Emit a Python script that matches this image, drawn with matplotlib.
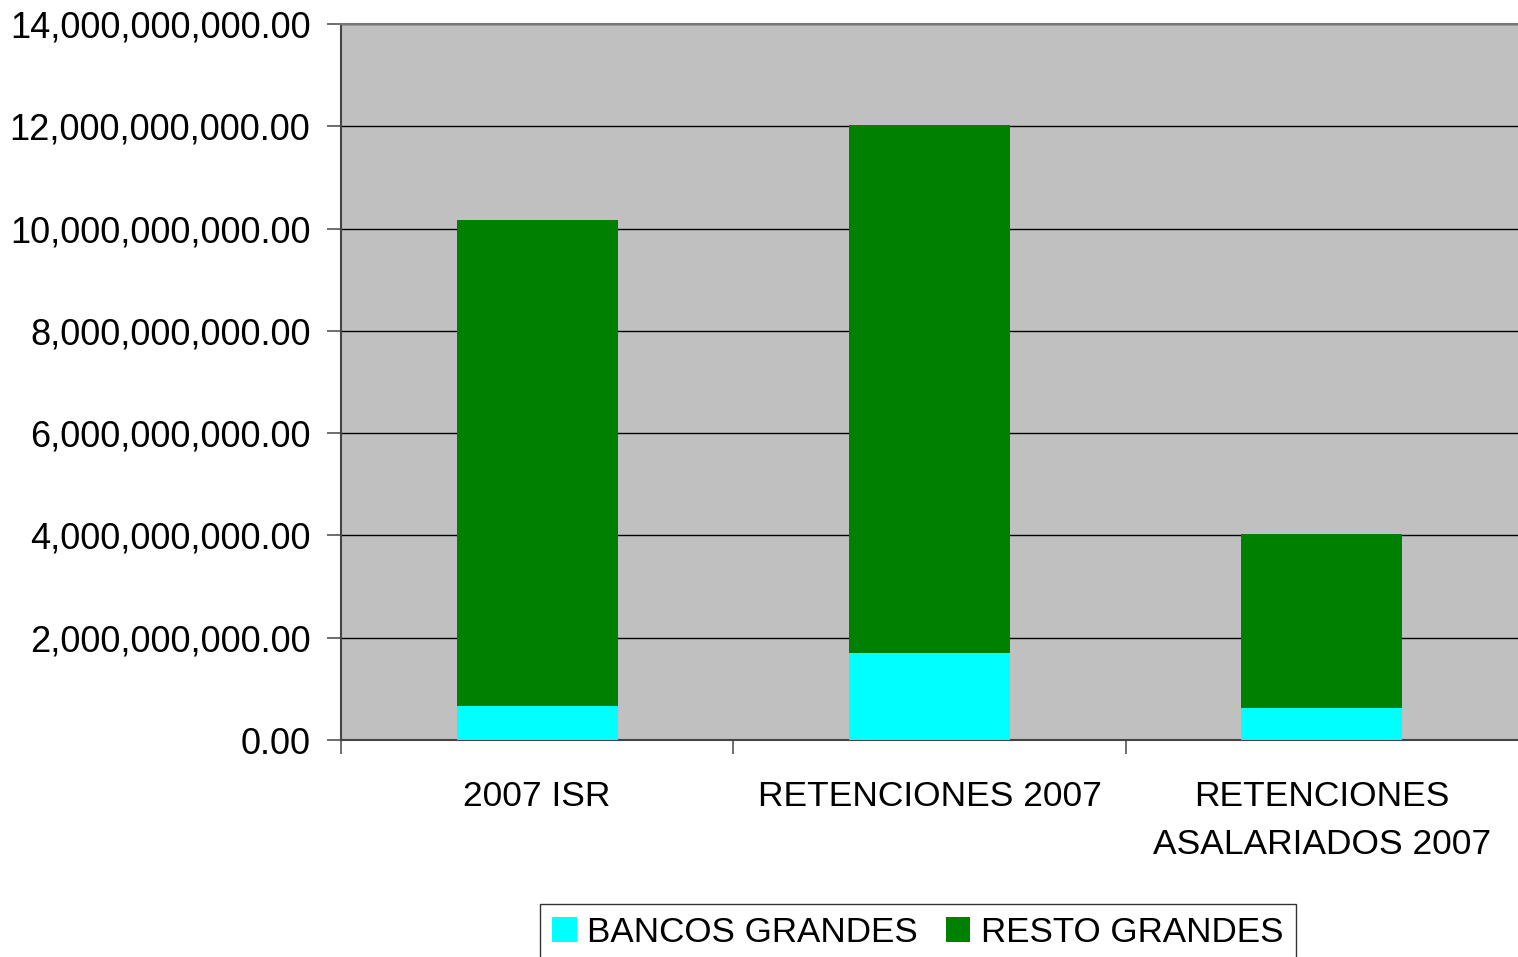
import matplotlib.pyplot as plt
import numpy as np
from matplotlib.ticker import FuncFormatter

plt.rcParams['font.family'] = ['Liberation Sans', 'DejaVu Sans']

categorias = ["2007 ISR", "RETENCIONES 2007", "RETENCIONES\nASALARIADOS 2007"]
bancos_grandes = [0.665e9, 1.70e9, 0.626e9]
resto_grandes = [9.50e9, 10.33e9, 3.40e9]

fig = plt.figure(figsize=(15.18, 9.57), dpi=100)
ax = fig.add_axes([0.2246, 0.2267, 0.7754, 0.7482])
ax.set_facecolor('#c0c0c0')

x = np.arange(len(categorias))
ax.bar(x, bancos_grandes, width=0.41, color='#00ffff', label='BANCOS GRANDES', zorder=3)
ax.bar(x, resto_grandes, width=0.41, bottom=bancos_grandes, color='#008000',
       label='RESTO GRANDES', zorder=3)

ax.set_xlim(-0.5, len(categorias) - 0.5)
ax.set_ylim(0, 14e9)
ax.set_yticks(np.arange(0, 14.1e9, 2e9))
ax.yaxis.set_major_formatter(FuncFormatter(lambda v, p: f"{v:,.2f}"))
ax.grid(axis='y', color='black', linewidth=1, zorder=1)

ax.set_xticks(np.arange(-0.5, len(categorias) - 0.5, 1))
ax.set_xticklabels([])
ax.set_xticks(x, minor=True)
ax.set_xticklabels(categorias, minor=True, fontsize=25.5, linespacing=1.55)
ax.tick_params(axis='x', which='minor', length=0, pad=29)
ax.tick_params(axis='x', which='major', length=10, width=1.2, color='#555555', direction='out')
ax.tick_params(axis='y', length=10, width=1.2, color='#555555', labelsize=26, pad=12)

for s in ['left', 'bottom']:
    ax.spines[s].set_color('#444444')
    ax.spines[s].set_linewidth(1.5)
ax.spines['top'].set_color('#777777')
ax.spines['top'].set_linewidth(1.5)
ax.spines['right'].set_visible(False)

leg = ax.legend(loc='upper center', bbox_to_anchor=(0.49, -0.204), ncol=2,
                fontsize=25.2, frameon=True, fancybox=False, edgecolor='black',
                handlelength=0.7, handleheight=0.7, handletextpad=0.3,
                columnspacing=0.8, borderpad=0.35)
leg.get_frame().set_linewidth(1)

fig.savefig('out.png', dpi=100)
